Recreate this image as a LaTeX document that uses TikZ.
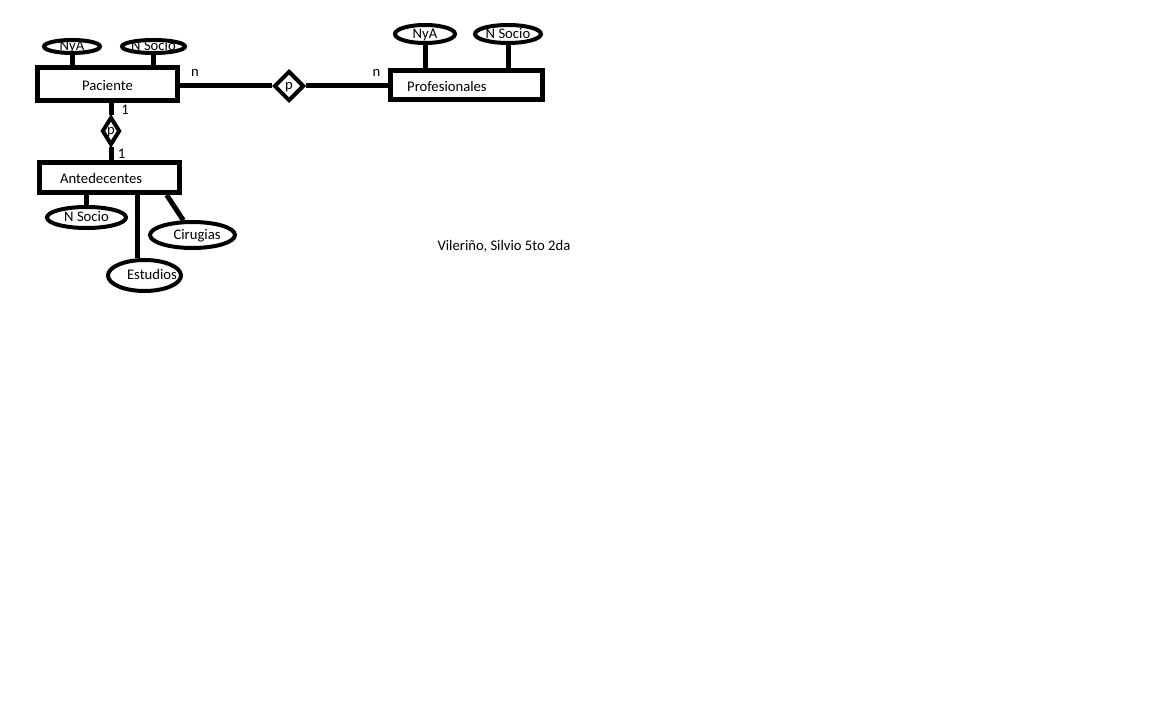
\documentclass[tikz,border=0pt]{standalone}
\usepackage{fontspec}
\setmainfont{Carlito}
\usetikzlibrary{shapes.geometric}

\tikzset{
  entity/.style={draw, line width=3.75pt, minimum width=105pt, minimum height=24.75pt, inner sep=0pt, text height=9.5pt, text depth=0pt},
  attr/.style={draw, ellipse, line width=3pt, inner sep=0pt, text height=6.5pt, text depth=0pt},
  rel/.style={draw, diamond, line width=3pt, inner sep=0pt, text height=6pt, text depth=0pt},
  link/.style={line width=3.75pt},
  card/.style={inner sep=0pt}
}

\begin{document}
\begin{tikzpicture}[x=0.75pt,y=0.75pt,yscale=-1,xscale=1,font=\fontsize{11}{13}\selectfont]
        \fill[white] (0,0) rectangle (1152,720);
        \useasboundingbox (0,0) rectangle (1152,720);
        % entidades
        \node (paciente) at (107.5,84) [entity] {Paciente};
        \node (profesionales) at (466.5,85) [entity, minimum width=114pt, minimum height=21.75pt, text width=89pt, align=left] {Profesionales};
        \node (antecedentes) at (109.5,177.5) [entity, minimum height=22.5pt, text width=74pt, align=left] {Antedecentes};
        % relaciones
        \node (rel1) at (289,86) [rel, minimum width=22.5pt, minimum height=22.5pt] {p};
        \node (rel2) at (111,131) [rel, minimum width=13.5pt, minimum height=21pt] {p};
        % atributos
        \node (nya1) at (72,46.5) [attr, minimum width=42pt, minimum height=9.75pt] {NyA};
        \node (socio1) at (153.5,46.5) [attr, minimum width=47.25pt, minimum height=9.75pt] {N Socio};
        \node (nya2) at (425,34) [attr, minimum width=45pt, minimum height=13.5pt] {NyA};
        \node (socio2) at (508,34) [attr, minimum width=49.5pt, minimum height=13.5pt] {N Socio};
        \node (socio3) at (86.5,217.5) [attr, minimum width=59.25pt, minimum height=15.75pt] {N Socio};
        \node (cirugias) at (192.5,235) [attr, minimum width=63.75pt, minimum height=19.5pt] {\hspace*{3.4pt}Cirugias\hspace*{-3.4pt}};
        \node (estudios) at (144.5,275.5) [attr, minimum width=54.75pt, minimum height=23.25pt] {\hspace*{5.6pt}Estudios\hspace*{-5.6pt}};
        % conexiones
        \draw [link] (paciente.east |- rel1) -- (rel1.west);
        \draw [link] (rel1.east) -- (profesionales.west |- rel1);
        \draw [link] (rel2.north) -- (rel2 |- paciente.south);
        \draw [link] (rel2.south) -- (rel2 |- antecedentes.north);
        \draw [link] (nya1.south) -- (nya1.south |- paciente.north);
        \draw [link] (socio1.south) -- (socio1.south |- paciente.north);
        \draw [link] (nya2.south) -- (nya2.south |- profesionales.north);
        \draw [link] (socio2.south) -- (socio2.south |- profesionales.north);
        \draw [link] (socio3.north) -- (socio3.north |- antecedentes.south);
        \draw [link] ([xshift=-5.5pt]estudios.north) -- ([xshift=-5.5pt]estudios.north |- antecedentes.south);
        \draw [link] (cirugias.122) -- (antecedentes.-17);
        % cardinalidades
        \node (cardn1) at (195,72.5) [card] {n};
        \node (cardn2) at (376.5,73) [card] {n};
        \node (card11) at (125,110) [card] {1};
        \node (card12) at (121.5,154) [card] {1};
        \node (firma) at (504,246) {Vileriño, Silvio 5to 2da};
    \end{tikzpicture}
\end{document}
